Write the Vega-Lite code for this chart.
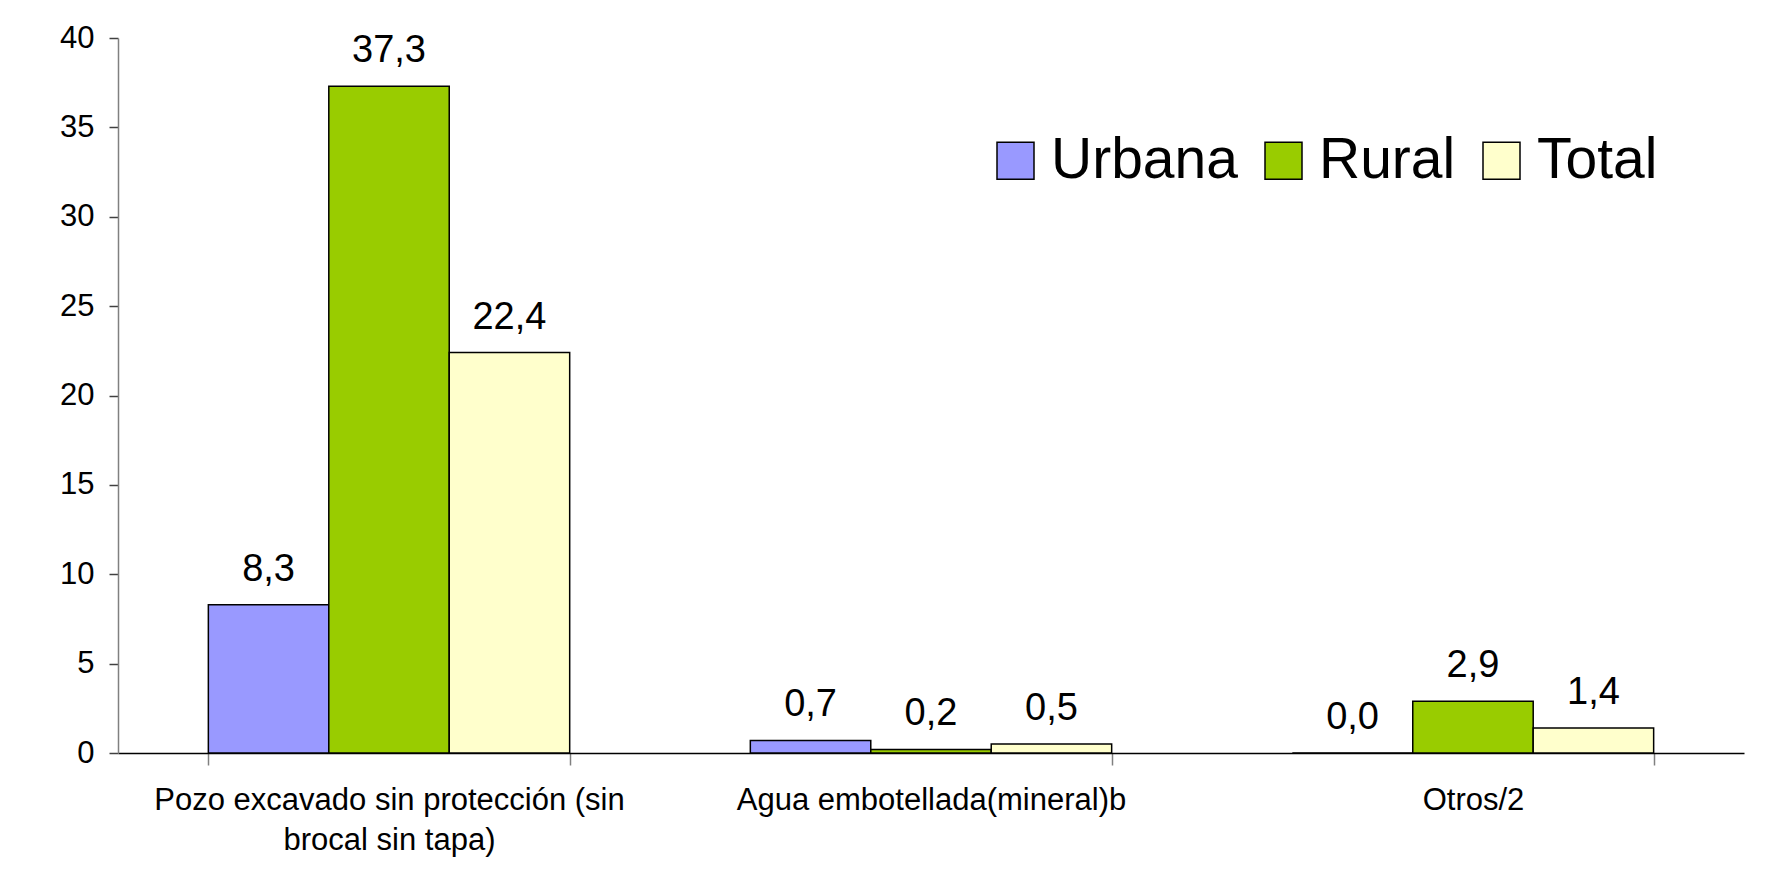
{
  "$schema": "https://vega.github.io/schema/vega-lite/v6.json",
  "autosize": {"type": "none"},
  "width": 1626,
  "height": 715,
  "padding": {"left": 118, "top": 38, "right": 31, "bottom": 117},
  "background": "white",
  "config": {
    "locale": {"number": {"decimal": ",", "thousands": ".", "grouping": [3], "currency": ["", ""]}},
    "view": {"stroke": null},
    "font": "Liberation Sans, Arial, sans-serif"
  },
  "data": {
    "values": [
      {"categoria": "Pozo excavado sin protección (sin brocal sin tapa)", "area": "Urbana", "valor": 8.3},
      {"categoria": "Pozo excavado sin protección (sin brocal sin tapa)", "area": "Rural", "valor": 37.3},
      {"categoria": "Pozo excavado sin protección (sin brocal sin tapa)", "area": "Total", "valor": 22.4},
      {"categoria": "Agua embotellada(mineral)b", "area": "Urbana", "valor": 0.7},
      {"categoria": "Agua embotellada(mineral)b", "area": "Rural", "valor": 0.2},
      {"categoria": "Agua embotellada(mineral)b", "area": "Total", "valor": 0.5},
      {"categoria": "Otros/2", "area": "Urbana", "valor": 0.0},
      {"categoria": "Otros/2", "area": "Rural", "valor": 2.9},
      {"categoria": "Otros/2", "area": "Total", "valor": 1.4}
    ]
  },
  "encoding": {
    "x": {
      "field": "categoria",
      "type": "nominal",
      "sort": null,
      "scale": {"paddingInner": 0.3333, "paddingOuter": 0.1667},
      "axis": {
        "title": null,
        "labelAngle": 0,
        "labelFontSize": 31,
        "labelColor": "black",
        "labelFont": "Liberation Sans, Arial, sans-serif",
        "labelPadding": 20,
        "labelLineHeight": 40,
        "labelLimit": 0,
        "labelExpr": "datum.label == 'Pozo excavado sin protección (sin brocal sin tapa)' ? ['Pozo excavado sin protección (sin', 'brocal sin tapa)'] : datum.label",
        "tickBand": "extent",
        "tickSize": 12,
        "tickColor": "#808080",
        "tickWidth": 1.5,
        "domainColor": "black",
        "domainWidth": 1.5,
        "grid": false
      }
    },
    "xOffset": {"field": "area", "type": "nominal", "sort": ["Urbana", "Rural", "Total"], "scale": {"paddingInner": 0, "paddingOuter": 0}},
    "y": {
      "field": "valor",
      "type": "quantitative",
      "scale": {"domain": [0, 40], "nice": false},
      "axis": {
        "title": null,
        "values": [0, 5, 10, 15, 20, 25, 30, 35, 40],
        "labelFontSize": 31,
        "labelColor": "black",
        "labelFont": "Liberation Sans, Arial, sans-serif",
        "labelPadding": 15,
        "tickSize": 9,
        "tickColor": "#404040",
        "tickWidth": 1.5,
        "domainColor": "#808080",
        "domainWidth": 1.5,
        "grid": false
      }
    }
  },
  "layer": [
    {
      "mark": {"type": "bar", "stroke": "black", "strokeWidth": 1.5},
      "encoding": {
        "color": {
          "field": "area",
          "type": "nominal",
          "sort": ["Urbana", "Rural", "Total"],
          "scale": {"domain": ["Urbana", "Rural", "Total"], "range": ["#9999FF", "#99CC00", "#FFFFCC"]},
          "legend": {
            "title": null,
            "orient": "none",
            "direction": "horizontal",
            "legendX": 869,
            "legendY": 94,
            "padding": 0,
            "symbolType": "square",
            "symbolSize": 1369,
            "symbolStrokeColor": "black",
            "symbolStrokeWidth": 1.5,
            "symbolOpacity": 1,
            "labelFontSize": 57,
            "labelColor": "black",
            "labelFont": "Liberation Sans, Arial, sans-serif",
            "labelOffset": 7,
            "labelLimit": 0,
            "columnPadding": 17
          }
        }
      }
    },
    {
      "mark": {"type": "text", "baseline": "alphabetic", "align": "center", "dy": -24, "fontSize": 38, "color": "black", "font": "Liberation Sans, Arial, sans-serif"},
      "encoding": {
        "text": {"field": "valor", "type": "quantitative", "format": ".1f"}
      }
    }
  ]
}
